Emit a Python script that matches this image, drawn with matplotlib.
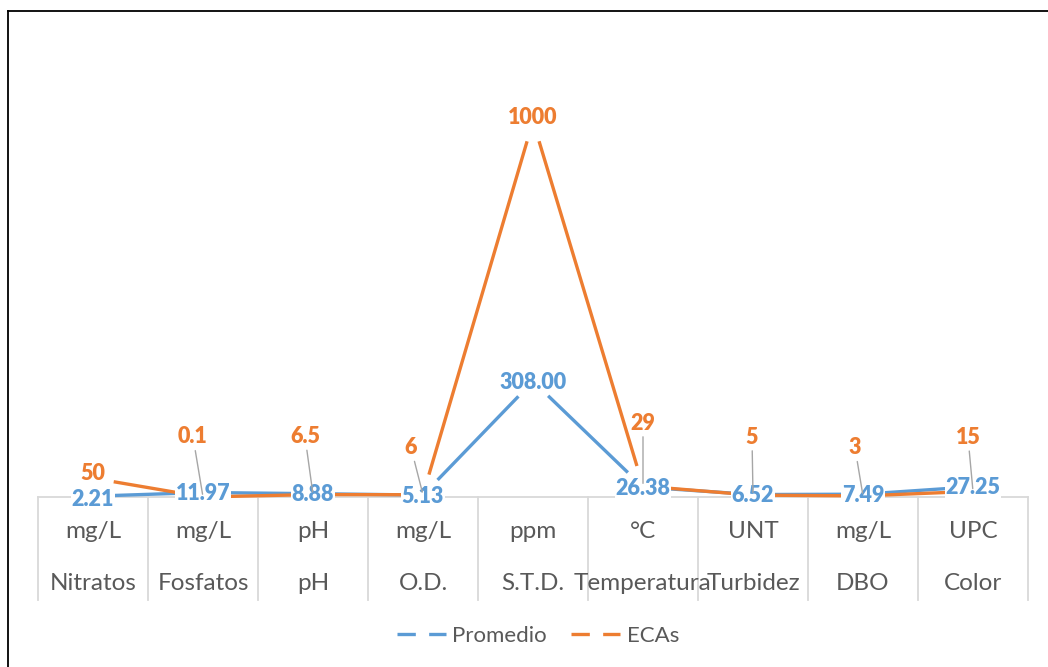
import matplotlib
matplotlib.use("Agg")
import matplotlib.pyplot as plt
from matplotlib.lines import Line2D
from matplotlib.transforms import blended_transform_factory

# --- data -------------------------------------------------------------
units = ["mg/L", "mg/L", "pH", "mg/L", "ppm", "°C", "UNT", "mg/L", "UPC"]
params = ["Nitratos", "Fosfatos", "pH", "O.D.", "S.T.D.", "Temperatura",
          "Turbidez", "DBO", "Color"]
promedio = [2.21, 11.97, 8.88, 5.13, 308.00, 26.38, 6.52, 7.49, 27.25]
ecas = [50, 0.1, 6.5, 6, 1000, 29, 5, 3, 15]

# label placement (pixel offsets from each point)
promedio_offsets = [(0, -3), (0, -1), (0, -1), (0, -1), (0, -1),
                    (0, -1), (0, -1), (0, -1), (0, -1)]
ecas_offsets = [(0, 5), (-10, 60), (-8, 58), (-12, 47), (0, 4),
                (0, 63), (-1, 58), (-8, 48), (-5, 54)]

BLUE = "#5B9BD5"
ORANGE = "#ED7D31"
TEXT = "#595959"
GRID = "#D9D9D9"
FONT = "Lato"
LABEL_WEIGHT = "heavy"

W, H, DPI = 1048, 667, 100
fig = plt.figure(figsize=(W / DPI, H / DPI), dpi=DPI)
fig.patch.set_facecolor("white")

x0, x1, ytop, ybase = 38, 1028, 46, 497
ax = fig.add_axes([x0 / W, 1 - ybase / H, (x1 - x0) / W, (ybase - ytop) / H])
ax.set_xlim(-0.5, len(params) - 0.5)
ax.set_ylim(0, 1200)
ax.axis("off")

n = len(params)
xs = list(range(n))
px = 0.72  # points per pixel at 100 dpi


def draw_series(values, color, z):
    gap = 21 * px
    for i in range(n - 1):
        ax.annotate("", xy=(xs[i + 1], values[i + 1]), xytext=(xs[i], values[i]),
                    arrowprops=dict(arrowstyle="-", color=color, lw=2.4,
                                    shrinkA=gap, shrinkB=gap, capstyle="butt"),
                    zorder=z, annotation_clip=False)


draw_series(promedio, BLUE, 2)
draw_series(ecas, ORANGE, 2.5)

# data labels
for i, v in enumerate(promedio):
    dx, dy = promedio_offsets[i]
    ax.annotate(f"{v:.2f}", xy=(xs[i], v), xytext=(dx, dy),
                textcoords="offset pixels", ha="center", va="center",
                fontsize=15.5, fontweight=LABEL_WEIGHT, color=BLUE, family=FONT,
                bbox=dict(boxstyle="square,pad=0.02", fc="white", ec="none"),
                zorder=3, annotation_clip=False)

for i, v in enumerate(ecas):
    dx, dy = ecas_offsets[i]
    far = (dx * dx + dy * dy) ** 0.5 > 30
    arrow = dict(arrowstyle="-", color="#A6A6A6", lw=1.0,
                 shrinkA=2, shrinkB=2) if far else None
    ax.annotate(f"{v:g}", xy=(xs[i], v), xytext=(dx, dy),
                textcoords="offset pixels", ha="center", va="center",
                fontsize=15.5, fontweight=LABEL_WEIGHT, color=ORANGE, family=FONT,
                bbox=dict(boxstyle="square,pad=0.02", fc="white", ec="none"),
                arrowprops=arrow, zorder=4, annotation_clip=False)

# multi-level category axis
ftr = fig.transFigure
ax.plot([-0.5, n - 0.5], [0, 0], color=GRID, lw=1.3, clip_on=False, zorder=1)
bt = blended_transform_factory(ax.transData, ftr)
for b in range(n + 1):
    xb = b - 0.5
    ax.add_line(Line2D([xb, xb], [1 - ybase / H, 1 - 600 / H], transform=bt,
                       color=GRID, lw=1.3, clip_on=False))
for i in range(n):
    ax.text(xs[i], 1 - 532 / H, units[i], transform=bt, ha="center",
            va="center", fontsize=17.5, color=TEXT, family=FONT)
    ax.text(xs[i], 1 - 584 / H, params[i], transform=bt, ha="center",
            va="center", fontsize=17.5, color=TEXT, family=FONT)

# legend
handles = [Line2D([], [], color=BLUE, lw=2.4, dashes=(5.5, 4.0)),
           Line2D([], [], color=ORANGE, lw=2.4, dashes=(5.5, 4.0))]
leg = fig.legend(handles, ["Promedio", "ECAs"], loc="center",
                 bbox_to_anchor=(538 / W, 1 - 636 / H), ncol=2, frameon=False,
                 handlelength=2.2, handletextpad=0.3, columnspacing=1.1,
                 prop=dict(family=FONT, size=16))
for t in leg.get_texts():
    t.set_color(TEXT)

# outer frame
fig.add_artist(Line2D([8 / W, 1.0], [1 - 11 / H, 1 - 11 / H], transform=ftr,
                      color="black", lw=1.3))
fig.add_artist(Line2D([8 / W, 8 / W], [1 - 11 / H, 0.0], transform=ftr,
                      color="black", lw=1.3))

fig.savefig("out.png", dpi=DPI)
